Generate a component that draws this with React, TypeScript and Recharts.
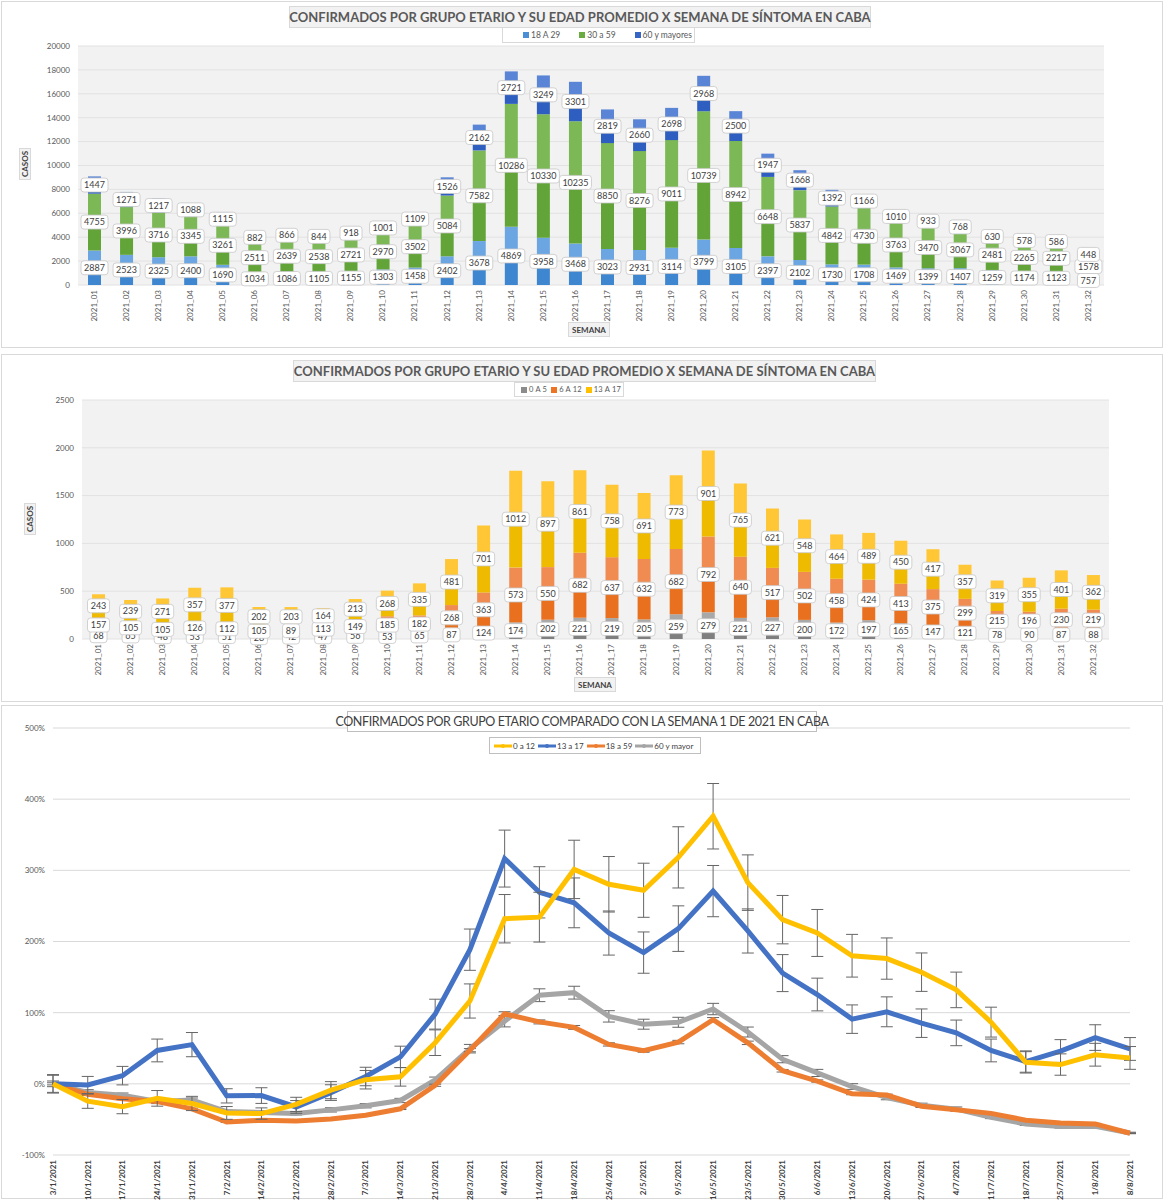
import React from 'react'
import {
  BarChart,
  Bar,
  XAxis,
  YAxis,
  CartesianGrid,
  LabelList,
  LineChart,
  Line,
  ErrorBar,
} from 'recharts'

const WEEKS = [
  '2021_01', '2021_02', '2021_03', '2021_04', '2021_05', '2021_06', '2021_07', '2021_08',
  '2021_09', '2021_10', '2021_11', '2021_12', '2021_13', '2021_14', '2021_15', '2021_16',
  '2021_17', '2021_18', '2021_19', '2021_20', '2021_21', '2021_22', '2021_23', '2021_24',
  '2021_25', '2021_26', '2021_27', '2021_28', '2021_29', '2021_30', '2021_31', '2021_32',
]

const DATES = [
  '3/1/2021', '10/1/2021', '17/1/2021', '24/1/2021', '31/1/2021', '7/2/2021', '14/2/2021', '21/2/2021',
  '28/2/2021', '7/3/2021', '14/3/2021', '21/3/2021', '28/3/2021', '4/4/2021', '11/4/2021', '18/4/2021',
  '25/4/2021', '2/5/2021', '9/5/2021', '16/5/2021', '23/5/2021', '30/5/2021', '6/6/2021', '13/6/2021',
  '20/6/2021', '27/6/2021', '4/7/2021', '11/7/2021', '18/7/2021', '25/7/2021', '1/8/2021', '8/8/2021',
]

// adultos
const AGE_18_29 = [2887, 2523, 2325, 2400, 1690, 1034, 1086, 1105, 1155, 1303, 1458, 2402, 3678, 4869, 3958, 3468, 3023, 2931, 3114, 3799, 3105, 2397, 2102, 1730, 1708, 1469, 1399, 1407, 1259, 1174, 1123, 757]
const AGE_30_59 = [4755, 3996, 3716, 3345, 3261, 2511, 2639, 2538, 2721, 2970, 3502, 5084, 7582, 10286, 10330, 10235, 8850, 8276, 9011, 10739, 8942, 6648, 5837, 4842, 4730, 3763, 3470, 3067, 2481, 2265, 2217, 1578]
const AGE_60_PLUS = [1447, 1271, 1217, 1088, 1115, 882, 866, 844, 918, 1001, 1109, 1526, 2162, 2721, 3249, 3301, 2819, 2660, 2698, 2968, 2500, 1947, 1668, 1392, 1166, 1010, 933, 768, 630, 578, 586, 448]

// menores
const AGE_0_5 = [68, 65, 48, 53, 51, 28, 42, 47, 56, 53, 65, 87, 124, 174, 202, 221, 219, 205, 259, 279, 221, 227, 200, 172, 197, 165, 147, 121, 78, 90, 87, 88]
const AGE_6_12 = [157, 105, 105, 126, 112, 105, 89, 113, 149, 185, 182, 268, 363, 573, 550, 682, 637, 632, 682, 792, 640, 517, 502, 458, 424, 413, 375, 299, 215, 196, 230, 219]
const AGE_13_17 = [243, 239, 271, 357, 377, 202, 203, 164, 213, 268, 335, 481, 701, 1012, 897, 861, 758, 691, 773, 901, 765, 621, 548, 464, 489, 450, 417, 357, 319, 355, 401, 362]

// variacion % contra la semana 1
const PCT_0_12 = [0, -24.4, -32, -20.4, -27.6, -40.9, -41.8, -28.9, -8.9, 5.8, 9.8, 57.8, 116.4, 232, 234.2, 301.3, 280.4, 272, 318.2, 376, 282.7, 230.7, 212, 180, 176, 156.9, 132, 86.7, 30.2, 27.1, 40.9, 36.4]
const PCT_13_17 = [0, -1.6, 11.5, 46.9, 55.1, -16.9, -16.5, -32.5, -12.3, 10.3, 37.9, 97.9, 188.5, 316.5, 269.1, 254.3, 211.9, 184.4, 218.1, 270.8, 214.8, 155.6, 125.5, 90.9, 101.2, 85.2, 71.6, 46.9, 31.3, 46.1, 65, 49]
const PCT_18_59 = [0, -14.7, -21, -24.8, -35.2, -53.6, -51.3, -52.3, -49.3, -44.1, -35.1, -2, 47.3, 98.3, 87, 79.3, 55.4, 46.6, 58.7, 90.2, 57.6, 18.4, 3.9, -14, -15.8, -31.5, -36.3, -41.5, -51.1, -55, -56.3, -69.4]
const PCT_60_PLUS = [0, -12.2, -15.9, -24.8, -22.9, -39, -40.2, -41.7, -36.6, -30.8, -23.4, 5.5, 49.4, 88, 124.5, 128.1, 94.8, 83.8, 86.5, 105.1, 72.8, 34.6, 15.3, -3.8, -19.4, -30.2, -35.5, -46.9, -56.5, -60.1, -59.5, -69]

// barras de error (estimadas)
const ERR_0_12 = [13, 10, 10, 11, 10, 9, 8, 10, 12, 13, 13, 18, 24, 34, 35, 41, 39, 38, 43, 46, 39, 34, 33, 30, 29, 27, 25, 21, 15, 15, 16, 16]
const ERR_13_17 = [12, 12, 13, 16, 17, 10, 11, 9, 11, 13, 15, 21, 29, 40, 36, 35, 31, 29, 32, 36, 31, 26, 23, 20, 21, 20, 18, 16, 15, 16, 18, 16]
const ERR_18_59 = [1.5, 1.3, 1.2, 1.1, 1, 0.7, 0.8, 0.7, 0.8, 0.8, 1, 1.5, 2.2, 3, 2.8, 2.7, 2.3, 2.2, 2.4, 2.9, 2.4, 1.8, 1.6, 1.3, 1.3, 1, 1, 0.9, 0.7, 0.7, 0.7, 0.5]
const ERR_60_PLUS = [4, 4, 3, 3, 3, 2, 2, 2, 3, 3, 3, 4, 6, 8, 9, 9, 8, 7, 7, 8, 7, 5, 5, 4, 3, 3, 3, 2, 2, 2, 2, 1]

const TOP_TICKS = [0, 2000, 4000, 6000, 8000, 10000, 12000, 14000, 16000, 18000, 20000]
const MID_TICKS = [0, 500, 1000, 1500, 2000, 2500]
const PCT_TICKS = [-100, 0, 100, 200, 300, 400, 500]

const FONT = 'Lato, "Open Sans", sans-serif'
const TEXT = '#595959'
const BORDER = '#d9d9d9'

const adultRows = WEEKS.map((week, i) => ({
  week,
  a: AGE_18_29[i],
  b: AGE_30_59[i],
  c: AGE_60_PLUS[i],
}))

const minorRows = WEEKS.map((week, i) => ({
  week,
  a: AGE_0_5[i],
  b: AGE_6_12[i],
  c: AGE_13_17[i],
}))

const pctRows = DATES.map((date, i) => ({
  date,
  y012: PCT_0_12[i],
  y1317: PCT_13_17[i],
  y1859: PCT_18_59[i],
  y60: PCT_60_PLUS[i],
  e012: ERR_0_12[i],
  e1317: ERR_13_17[i],
  e1859: ERR_18_59[i],
  e60: ERR_60_PLUS[i],
}))

// all three labels of a stack are drawn from the top bar, so they sit above every segment
function stackLabels(series: number[][]) {
  return (props: any) => {
    const vb = props.viewBox || props
    const { x, y, width, height } = vb
    const idx = props.index
    const vals = series.map((s) => s[idx])
    const top = vals[vals.length - 1]
    if (!top || !height) return null
    const ppu = height / top
    const bottom = y + height + (vals[0] + vals[1]) * ppu
    let cum = 0
    return (
      <g>
        {vals.map((v, k) => {
          const cy = bottom - (cum + v / 2) * ppu
          cum += v
          const txt = String(v)
          const w = txt.length * 5 + 7
          return (
            <g key={k}>
              <rect x={x + width / 2 - w / 2} y={cy - 7} width={w} height={14} rx={3} fill="#fff" stroke="#c6c6c6" strokeWidth={0.8} />
              <text x={x + width / 2} y={cy} dy="0.35em" textAnchor="middle" fontSize={9} fill="#404040" fontFamily={FONT}>
                {txt}
              </text>
            </g>
          )
        })}
      </g>
    )
  }
}

function RotTick(props: any) {
  const { x, y, payload, bold, color, size } = props
  return (
    <text
      x={0}
      y={0}
      dy="0.35em"
      textAnchor="end"
      transform={`translate(${x},${y}) rotate(-90)`}
      fontSize={size}
      fontWeight={bold ? 700 : 400}
      fill={color}
      fontFamily={FONT}
    >
      {payload.value}
    </text>
  )
}

function TwoTone({ id, light, dark }: { id: string; light: string; dark: string }) {
  return (
    <linearGradient id={id} x1="0" y1="0" x2="0" y2="1">
      <stop offset="0" stopColor={light} />
      <stop offset="0.5" stopColor={light} />
      <stop offset="0.5" stopColor={dark} />
      <stop offset="1" stopColor={dark} />
    </linearGradient>
  )
}

const box = (left: number, top: number, width: number, height: number, extra: React.CSSProperties = {}): React.CSSProperties => ({
  position: 'absolute',
  left,
  top,
  width,
  height,
  boxSizing: 'border-box',
  ...extra,
})

function Square({ color }: { color: string }) {
  return <span style={{ display: 'inline-block', flexShrink: 0, width: 6, height: 6, background: color, marginRight: 2 }} />
}

function LineKey({ color }: { color: string }) {
  return (
    <svg width={18} height={8} style={{ marginRight: 1, flexShrink: 0 }}>
      <line x1={0} y1={4} x2={18} y2={4} stroke={color} strokeWidth={3} />
      <circle cx={9} cy={4} r={2} fill={color} />
    </svg>
  )
}

function AxisTitle({ left, top, text, vertical }: { left: number; top: number; text: string; vertical?: boolean }) {
  return (
    <div
      style={box(left, top, vertical ? 12 : 42, vertical ? 32 : 15, {
        border: `1px solid ${BORDER}`,
        background: '#f2f2f2',
        display: 'flex',
        alignItems: 'center',
        justifyContent: 'center',
        fontSize: 8,
        fontWeight: 700,
        color: '#404040',
      })}
    >
      <span style={{ transform: vertical ? 'rotate(-90deg)' : undefined, whiteSpace: 'nowrap' }}>{text}</span>
    </div>
  )
}

export default function App() {
  return (
    <div style={{ position: 'relative', width: 1166, height: 1200, fontFamily: FONT, background: '#fff', overflow: 'hidden' }}>
      <style>{'body{margin:0}'}</style>

      {/* panel borders */}
      <div style={box(1, 1, 1162, 347, { border: `1px solid ${BORDER}` })} />
      <div style={box(1, 354, 1162, 348, { border: `1px solid ${BORDER}` })} />
      <div style={box(1, 705, 1162, 494, { border: `1px solid ${BORDER}` })} />

      {/* adultos */}
      <div style={{ position: 'absolute', left: 0, top: 0 }}>
        <BarChart width={1166} height={348} data={adultRows} margin={{ top: 46, right: 62, bottom: 23, left: 18 }} barSize={13}>
          <defs>
            <TwoTone id="g1829" light="#6ca6e2" dark="#3f86d0" />
            <TwoTone id="g3059" light="#7cb855" dark="#62a437" />
            <TwoTone id="g60" light="#5a84d6" dark="#2e5fc0" />
          </defs>
          <CartesianGrid vertical={false} stroke="#e2e2e2" fill="#f2f2f2" />
          <XAxis
            dataKey="week"
            axisLine={false}
            tickLine={false}
            interval={0}
            height={40}
            tick={(p: any) => <RotTick {...p} y={p.y - 3} size={8} color={TEXT} />}
          />
          <YAxis
            width={60}
            domain={[0, 20000]}
            ticks={TOP_TICKS}
            axisLine={false}
            tickLine={false}
            tick={{ fontSize: 8, fill: TEXT, fontFamily: FONT }}
          />
          <Bar dataKey="a" stackId="s" fill="url(#g1829)" isAnimationActive={false} />
          <Bar dataKey="b" stackId="s" fill="url(#g3059)" isAnimationActive={false} />
          <Bar dataKey="c" stackId="s" fill="url(#g60)" isAnimationActive={false}>
            <LabelList dataKey="c" content={stackLabels([AGE_18_29, AGE_30_59, AGE_60_PLUS])} />
          </Bar>
        </BarChart>
      </div>
      <div
        style={box(289, 6, 582, 22, {
          border: `1px solid ${BORDER}`,
          background: '#f2f2f2',
          display: 'flex',
          alignItems: 'center',
          justifyContent: 'center',
          fontSize: 13,
          fontWeight: 700,
          color: TEXT,
          whiteSpace: 'nowrap',
        })}
      >
        CONFIRMADOS POR GRUPO ETARIO Y SU EDAD PROMEDIO X SEMANA DE SÍNTOMA EN CABA
      </div>
      <div
        style={box(502, 27, 193, 16, {
          border: `1px solid ${BORDER}`,
          background: '#fff',
          display: 'flex',
          alignItems: 'center',
          fontSize: 8.5,
          color: TEXT,
          paddingLeft: 20,
          whiteSpace: 'nowrap',
        })}
      >
        <Square color="#4a8fd6" />
        <span style={{ marginRight: 19 }}>18 A 29</span>
        <Square color="#6aac40" />
        <span style={{ marginRight: 19 }}>30 a 59</span>
        <Square color="#3566c6" />
        <span>60 y mayores</span>
      </div>
      <AxisTitle left={19} top={148} text="CASOS" vertical />
      <AxisTitle left={568} top={322} text="SEMANA" />

      {/* menores */}
      <div style={{ position: 'absolute', left: 0, top: 354 }}>
        <BarChart width={1166} height={347} data={minorRows} margin={{ top: 46, right: 57, bottom: 22, left: 22 }} barSize={13}>
          <defs>
            <TwoTone id="g05" light="#a8a8a8" dark="#7f7f7f" />
            <TwoTone id="g612" light="#f08c52" dark="#e8701e" />
            <TwoTone id="g1317" light="#ffc736" dark="#eebb00" />
          </defs>
          <CartesianGrid vertical={false} stroke="#e2e2e2" fill="#f2f2f2" />
          <XAxis
            dataKey="week"
            axisLine={false}
            tickLine={false}
            interval={0}
            height={40}
            tick={(p: any) => <RotTick {...p} y={p.y - 3} size={8} color={TEXT} />}
          />
          <YAxis
            width={60}
            domain={[0, 2500]}
            ticks={MID_TICKS}
            axisLine={false}
            tickLine={false}
            tick={{ fontSize: 8, fill: TEXT, fontFamily: FONT }}
          />
          <Bar dataKey="a" stackId="s" fill="url(#g05)" isAnimationActive={false} />
          <Bar dataKey="b" stackId="s" fill="url(#g612)" isAnimationActive={false} />
          <Bar dataKey="c" stackId="s" fill="url(#g1317)" isAnimationActive={false}>
            <LabelList dataKey="c" content={stackLabels([AGE_0_5, AGE_6_12, AGE_13_17])} />
          </Bar>
        </BarChart>
      </div>
      <div
        style={box(293, 360, 583, 22, {
          border: `1px solid ${BORDER}`,
          background: '#f2f2f2',
          display: 'flex',
          alignItems: 'center',
          justifyContent: 'center',
          fontSize: 13,
          fontWeight: 700,
          color: TEXT,
          whiteSpace: 'nowrap',
        })}
      >
        CONFIRMADOS POR GRUPO ETARIO Y SU EDAD PROMEDIO X SEMANA DE SÍNTOMA EN CABA
      </div>
      <div
        style={box(514, 382, 110, 15, {
          border: `1px solid ${BORDER}`,
          background: '#fff',
          display: 'flex',
          alignItems: 'center',
          fontSize: 7.5,
          letterSpacing: 0.2,
          color: TEXT,
          paddingLeft: 6,
          whiteSpace: 'nowrap',
        })}
      >
        <Square color="#8c8c8c" />
        <span style={{ marginRight: 4 }}>0 A 5</span>
        <Square color="#ed7424" />
        <span style={{ marginRight: 4 }}>6 A 12</span>
        <Square color="#ffc000" />
        <span>13 A 17</span>
      </div>
      <AxisTitle left={24} top={503} text="CASOS" vertical />
      <AxisTitle left={574} top={677} text="SEMANA" />

      {/* comparacion semana 1 */}
      <div style={{ position: 'absolute', left: 0, top: 705 }}>
        <LineChart width={1166} height={495} data={pctRows} margin={{ top: 23, right: 36, bottom: 5, left: 7 }}>
          <CartesianGrid vertical={false} stroke="#d9d9d9" />
          <XAxis
            dataKey="date"
            axisLine={false}
            tickLine={false}
            interval={0}
            height={40}
            tick={(p: any) => <RotTick {...p} y={p.y - 3} size={8} bold color="#404040" />}
          />
          <YAxis
            width={46}
            domain={[-100, 500]}
            ticks={PCT_TICKS}
            axisLine={false}
            tickLine={false}
            tickFormatter={(v: number) => `${v}%`}
            tick={{ fontSize: 8, fill: TEXT, fontFamily: FONT }}
          />
          <Line dataKey="y60" stroke="#a5a5a5" strokeWidth={5} dot={false} isAnimationActive={false}>
            <ErrorBar dataKey="e60" width={6} strokeWidth={1} stroke="#666" direction="y" />
          </Line>
          <Line dataKey="y1859" stroke="#ed7d31" strokeWidth={5} dot={false} isAnimationActive={false}>
            <ErrorBar dataKey="e1859" width={6} strokeWidth={1} stroke="#666" direction="y" />
          </Line>
          <Line dataKey="y1317" stroke="#4472c4" strokeWidth={5} dot={false} isAnimationActive={false}>
            <ErrorBar dataKey="e1317" width={6} strokeWidth={1} stroke="#666" direction="y" />
          </Line>
          <Line dataKey="y012" stroke="#ffc000" strokeWidth={5} dot={false} isAnimationActive={false}>
            <ErrorBar dataKey="e012" width={6} strokeWidth={1} stroke="#666" direction="y" />
          </Line>
        </LineChart>
      </div>
      <div
        style={box(347, 711, 470, 21, {
          border: '1px solid #bfbfbf',
          background: '#fff',
          display: 'flex',
          alignItems: 'center',
          justifyContent: 'center',
          fontSize: 12.5,
          letterSpacing: -0.4,
          color: '#404040',
          whiteSpace: 'nowrap',
        })}
      >
        CONFIRMADOS POR GRUPO ETARIO COMPARADO CON LA SEMANA 1 DE 2021 EN CABA
      </div>
      <div
        style={box(489, 737, 212, 17, {
          border: '1px solid #bfbfbf',
          background: '#fff',
          display: 'flex',
          alignItems: 'center',
          fontSize: 8,
          color: '#404040',
          paddingLeft: 4,
          whiteSpace: 'nowrap',
        })}
      >
        <LineKey color="#ffc000" />
        <span style={{ marginRight: 3 }}>0 a 12</span>
        <LineKey color="#4472c4" />
        <span style={{ marginRight: 3 }}>13 a 17</span>
        <LineKey color="#ed7d31" />
        <span style={{ marginRight: 3 }}>18 a 59</span>
        <LineKey color="#a5a5a5" />
        <span>60 y mayor</span>
      </div>
    </div>
  )
}
